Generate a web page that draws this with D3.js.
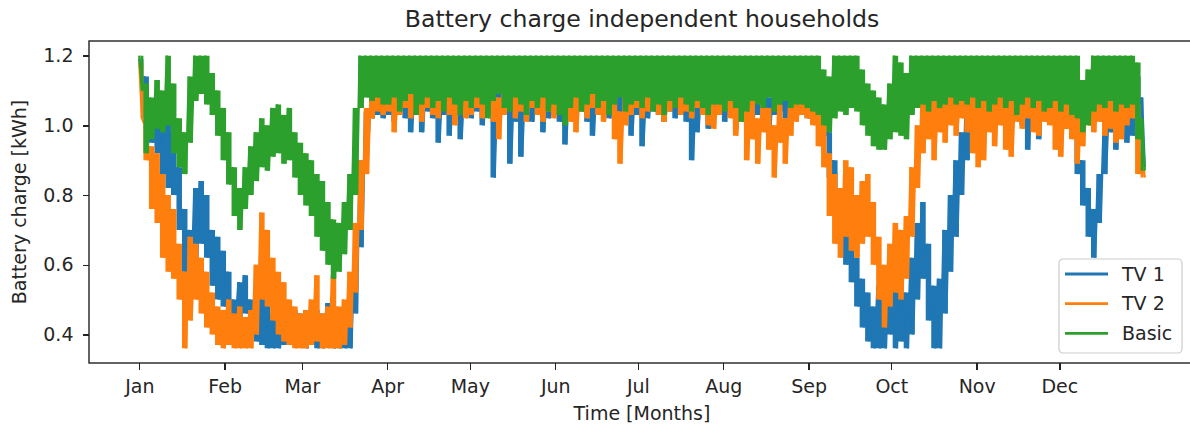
<!DOCTYPE html>
<html lang="en">
<head>
<meta charset="utf-8">
<script src="https://d3js.org/d3.v7.min.js"></script>
<style type="text/css">
body {
	margin: 0;
	background-color: #ffffff;
	font-family: "DejaVu Sans", sans-serif;
}

.axis text {
	font: 19px "DejaVu Sans", sans-serif;
	fill: #262626;
}

.axis line {
	stroke: #222;
	stroke-width: 1.4;
	shape-rendering: crispEdges;
}
</style>
</head>
<body>
<div id="chart"></div>
<script type="text/javascript">

	// tick labels
	var monthNames = ["Jan", "Feb", "Mar", "Apr", "May", "Jun", "Jul", "Aug", "Sep", "Oct", "Nov", "Dec"];
	var yTicks = [0.4, 0.6, 0.8, 1.0, 1.2];

	// legend entries (plot order)
	var seriesNames = ["TV 1", "TV 2", "Basic"];
	var seriesColors = ["#1f77b4", "#ff7f0e", "#2ca02c"];

	// one sample every 2 days: daily peak and daily low of the charge (kWh)
	var stepDays = 2;

	var tv1High = [
		1.19,1.14,1.06,1.04,1.03,1.02,0.98,0.88,0.76,0.70,0.82,0.84,0.80,0.70,0.68,
		0.64,0.58,0.50,0.55,0.57,0.50,0.47,0.55,0.50,0.46,0.44,0.46,0.48,0.47,0.46,
		0.47,0.45,0.47,0.46,0.49,0.47,0.46,0.44,0.44,0.62,0.90,1.04,1.08,1.10,1.09,
		1.12,1.10,1.13,1.11,1.09,1.12,1.10,1.13,1.11,1.08,1.12,1.10,1.13,1.09,1.11,
		1.11,1.13,1.10,1.12,1.06,1.11,1.13,1.08,1.12,1.09,1.12,1.10,1.13,1.11,1.12,
		1.12,1.10,1.06,1.12,1.11,1.13,1.10,1.09,1.12,1.13,1.11,1.12,1.10,1.12,1.08,
		1.12,1.06,1.11,1.13,1.12,1.10,1.13,1.11,1.12,1.10,1.04,1.09,1.12,1.10,1.11,
		1.13,1.10,1.12,1.09,1.11,1.13,1.10,1.12,1.11,1.08,1.12,1.13,1.11,1.13,1.12,
		1.12,1.10,1.12,1.10,1.06,0.98,0.90,0.82,0.74,0.70,0.62,0.56,0.52,0.48,0.54,
		0.50,0.58,0.54,0.60,0.52,0.62,0.72,0.78,0.66,0.54,0.56,0.70,0.80,0.90,0.98,
		1.06,1.10,1.12,1.10,1.12,1.11,1.12,1.10,1.12,1.11,1.10,1.09,1.12,1.10,1.11,
		1.12,1.10,1.11,1.08,1.06,1.00,0.90,0.82,0.76,0.86,0.98,1.08,1.10,1.12,1.10,
		1.12,1.14,1.08
	];
	var tv1Low = [
		1.12,1.02,0.95,0.92,0.86,0.82,0.80,0.70,0.58,0.55,0.62,0.66,0.62,0.54,0.50,
		0.48,0.46,0.43,0.45,0.46,0.40,0.38,0.37,0.36,0.36,0.36,0.37,0.39,0.38,0.37,
		0.36,0.37,0.36,0.36,0.37,0.36,0.36,0.36,0.36,0.46,0.65,0.92,1.02,1.03,1.02,
		1.03,1.01,1.04,1.02,0.98,1.03,0.98,1.04,1.02,0.95,1.03,0.97,1.02,0.96,1.03,
		1.02,1.04,1.00,1.03,0.85,1.02,1.04,0.89,1.01,0.91,1.03,1.01,1.04,0.98,1.02,
		1.03,1.01,0.945,1.03,1.02,1.04,1.01,0.97,1.03,1.04,1.02,1.04,1.01,1.03,0.97,
		1.03,0.94,1.02,1.04,1.03,1.01,1.04,1.02,1.03,1.01,0.90,0.98,1.03,0.99,1.02,
		1.04,1.01,1.03,0.99,1.02,1.04,1.01,1.03,1.02,0.97,1.03,1.04,1.02,1.04,1.03,
		1.04,1.02,1.03,1.01,0.97,0.85,0.76,0.66,0.60,0.55,0.48,0.42,0.38,0.36,0.36,
		0.36,0.40,0.36,0.38,0.36,0.40,0.50,0.56,0.44,0.36,0.36,0.46,0.58,0.68,0.80,
		0.90,0.98,1.02,1.03,1.01,1.04,1.02,1.03,1.01,1.04,1.00,0.93,1.03,0.96,1.02,
		1.03,1.01,1.03,0.99,0.97,0.86,0.77,0.68,0.62,0.72,0.86,0.98,0.93,1.01,0.95,
		0.97,1.00,0.88
	];

	var tv2High = [
		1.18,1.00,0.94,0.92,0.86,0.80,0.76,0.66,0.58,0.68,0.66,0.62,0.58,0.52,0.48,
		0.47,0.50,0.46,0.48,0.45,0.47,0.60,0.75,0.70,0.62,0.58,0.55,0.50,0.48,0.46,
		0.47,0.50,0.57,0.46,0.48,0.57,0.48,0.50,0.58,0.72,0.90,1.05,1.10,1.12,1.11,
		1.13,1.11,1.14,1.12,1.13,1.11,1.14,1.12,1.13,1.10,1.14,1.12,1.13,1.11,1.12,
		1.12,1.14,1.11,1.13,1.12,1.08,1.13,1.14,1.12,1.13,1.11,1.14,1.12,1.11,1.13,
		1.12,1.14,1.13,1.11,1.10,1.13,1.12,1.14,1.13,1.11,1.13,1.08,1.04,1.10,1.12,
		1.14,1.12,1.13,1.14,1.12,1.11,1.13,1.14,1.12,1.13,1.11,1.14,1.12,1.10,1.10,
		1.12,1.14,1.12,1.08,1.11,1.04,1.08,1.02,1.08,1.05,1.00,1.06,1.02,1.08,1.11,
		1.12,1.10,1.12,1.10,1.05,0.92,0.86,0.82,0.90,0.88,0.80,0.84,0.86,0.78,0.68,
		0.60,0.66,0.72,0.70,0.74,0.88,1.00,1.08,1.10,1.09,1.11,1.10,1.12,1.10,1.12,
		1.10,1.12,1.08,1.10,1.12,1.10,1.12,1.09,1.11,1.12,1.10,1.12,1.11,1.12,1.10,
		1.12,1.10,1.08,1.11,1.12,1.09,1.10,1.12,1.11,1.12,1.10,1.12,1.11,1.12,1.10,
		1.12,1.06,0.92
	];
	var tv2Low = [
		1.02,0.90,0.76,0.72,0.62,0.58,0.56,0.50,0.36,0.44,0.50,0.46,0.42,0.40,0.37,
		0.36,0.37,0.36,0.36,0.36,0.36,0.40,0.50,0.48,0.44,0.40,0.38,0.37,0.36,0.36,
		0.36,0.37,0.38,0.36,0.36,0.36,0.36,0.37,0.42,0.52,0.70,0.86,1.02,1.04,1.03,
		1.04,0.98,1.03,1.05,1.02,1.04,1.01,1.05,1.03,1.02,1.05,1.03,1.00,1.04,1.02,
		1.03,1.05,1.02,1.04,1.01,0.96,1.03,1.05,1.02,1.04,1.01,1.05,1.03,1.01,1.04,
		1.02,1.05,1.03,1.01,0.98,1.04,1.02,1.05,1.03,1.01,1.04,0.96,0.89,1.00,1.03,
		1.05,1.02,1.04,1.06,1.03,1.01,1.04,1.05,1.03,1.04,1.02,1.05,1.03,1.00,0.99,
		1.03,1.05,1.02,0.97,1.01,0.90,0.96,0.89,0.98,0.93,0.85,0.95,0.89,0.97,1.01,
		1.03,1.02,1.00,0.94,0.88,0.74,0.66,0.62,0.68,0.64,0.62,0.66,0.68,0.60,0.50,
		0.42,0.48,0.52,0.50,0.56,0.68,0.82,0.92,0.96,0.90,0.98,0.95,1.00,0.97,1.02,
		0.98,0.92,0.88,0.90,0.98,0.94,1.00,0.93,0.91,1.01,0.99,1.02,0.98,0.97,1.01,
		1.00,0.93,0.91,0.99,0.96,0.89,0.94,1.00,0.98,1.01,0.97,0.99,0.95,0.96,1.00,
		1.02,0.86,0.85
	];

	var basicHigh = [
		1.20,1.12,1.08,1.13,1.10,1.20,1.12,1.02,0.98,1.14,1.20,1.20,1.20,1.15,1.10,
		1.05,0.98,0.88,0.82,0.88,0.94,0.98,1.02,1.00,1.05,1.06,1.03,1.05,0.98,0.95,
		0.92,0.90,0.86,0.84,0.78,0.73,0.72,0.78,0.86,1.05,1.20,1.20,1.20,1.20,1.20,
		1.20,1.20,1.20,1.20,1.20,1.20,1.20,1.20,1.20,1.20,1.20,1.20,1.20,1.20,1.20,
		1.20,1.20,1.20,1.20,1.20,1.20,1.20,1.20,1.20,1.20,1.20,1.20,1.20,1.20,1.20,
		1.20,1.20,1.20,1.20,1.20,1.20,1.20,1.20,1.20,1.20,1.20,1.20,1.20,1.20,1.20,
		1.20,1.20,1.20,1.20,1.20,1.20,1.20,1.20,1.20,1.20,1.20,1.20,1.20,1.20,1.20,
		1.20,1.20,1.20,1.20,1.20,1.20,1.20,1.20,1.20,1.20,1.20,1.20,1.20,1.20,1.20,
		1.20,1.20,1.20,1.20,1.16,1.14,1.20,1.20,1.20,1.20,1.20,1.16,1.12,1.10,1.08,
		1.06,1.12,1.20,1.18,1.15,1.20,1.20,1.20,1.20,1.20,1.20,1.20,1.20,1.20,1.20,
		1.20,1.20,1.20,1.20,1.20,1.20,1.20,1.20,1.20,1.20,1.20,1.20,1.20,1.20,1.20,
		1.20,1.20,1.20,1.20,1.20,1.20,1.13,1.16,1.20,1.20,1.20,1.20,1.20,1.20,1.20,
		1.20,1.18,1.02
	];
	var basicLow = [
		1.10,0.92,0.96,0.99,0.98,1.00,0.92,0.88,0.86,0.95,1.07,1.09,1.06,1.03,0.97,
		0.90,0.83,0.74,0.70,0.76,0.80,0.84,0.88,0.87,0.91,0.92,0.89,0.90,0.85,0.80,
		0.77,0.74,0.68,0.64,0.60,0.56,0.58,0.63,0.70,0.80,1.05,1.08,1.07,1.08,1.06,
		1.06,1.08,1.04,1.07,1.09,1.03,1.06,1.08,1.05,1.07,1.04,1.08,1.06,1.03,1.07,
		1.05,1.08,1.06,1.02,1.07,1.09,1.05,1.04,1.08,1.06,1.03,1.07,1.05,1.08,1.04,
		1.06,1.03,1.00,1.05,1.08,1.04,1.06,1.09,1.05,1.07,1.03,1.06,1.08,1.04,1.06,
		1.07,1.05,1.08,1.04,1.06,1.03,1.07,1.05,1.08,1.06,1.04,1.07,1.05,1.03,1.06,
		1.06,1.04,1.07,1.05,1.01,1.04,1.07,1.06,1.05,1.08,1.04,1.06,1.07,1.05,1.06,
		1.06,1.05,1.04,1.03,1.00,0.98,1.02,1.04,1.03,1.05,1.04,1.00,0.97,0.94,0.93,
		0.93,0.96,0.98,0.97,0.96,1.03,1.05,1.06,1.04,1.07,1.05,1.06,1.08,1.06,1.07,
		1.06,1.08,1.05,1.07,1.04,1.06,1.08,1.05,1.07,1.03,1.06,1.08,1.05,1.07,1.04,
		1.05,1.07,1.04,1.06,1.03,1.02,0.98,1.00,1.04,1.06,1.05,1.07,1.04,1.06,1.05,
		1.06,0.96,0.87
	];

	var highs = [tv1High, tv2High, basicHigh];
	var lows = [tv1Low, tv2Low, basicLow];

	// Size of the page and of the axes box (right spine falls outside the page)
	var width = 1190;
	var height = 429;
	var plotLeft = 89, plotRight = 1195, plotTop = 41, plotBottom = 363;

	var yearStart = Date.UTC(2021, 0, 1);
	var dayMs = 864e5;
	function dateOf(d) { return new Date(yearStart + d * dayMs); }

	// 5% margins on both sides like matplotlib autoscale
	var x = d3.scaleUtc()
	  .domain([dateOf(-18.25), dateOf(383.25)])
	  .range([plotLeft, plotRight]);

	var y = d3.scaleLinear()
	  .domain([0.318, 1.242])
	  .range([plotBottom, plotTop]);

	var svg = d3.select("#chart")
	  .append("svg")
	  .attr("width", width)
	  .attr("height", height);

	svg.append("clipPath")
	  .attr("id", "plot-clip")
	  .append("rect")
	  .attr("x", plotLeft)
	  .attr("y", plotTop)
	  .attr("width", plotRight - plotLeft)
	  .attr("height", plotBottom - plotTop);

	var plot = svg.append("g").attr("clip-path", "url(#plot-clip)");

	// band covered by the charge in each period
	var band = d3.area()
	  .curve(d3.curveStep)
	  .x(function(d) { return x(dateOf(d.t + 0.5)); })
	  .y0(function(d) { return y(d.lo); })
	  .y1(function(d) { return y(d.hi); });

	// charge line going up to the peak and down to the low
	var line = d3.line()
	  .x(function(p) { return x(dateOf(p.t)); })
	  .y(function(p) { return y(p.v); });

	for (var s = 0; s < seriesNames.length; s++) {
		var samples = highs[s].map(function(h, i) {
			return { t: i * stepDays, hi: h, lo: lows[s][i] };
		});
		var points = [];
		samples.forEach(function(d) {
			points.push({ t: d.t, v: d.hi });
			points.push({ t: d.t + 1, v: d.lo });
		});

		plot.append("path")
		  .datum(samples)
		  .attr("d", band)
		  .style("fill", seriesColors[s])
		  .style("stroke", "none");

		plot.append("path")
		  .datum(points)
		  .attr("d", line)
		  .style("fill", "none")
		  .style("stroke", seriesColors[s])
		  .style("stroke-width", 2.4)
		  .style("stroke-linejoin", "miter");
	}

	// axes
	var monthTicks = monthNames.map(function(m, i) { return new Date(Date.UTC(2021, i, 1)); });

	svg.append("g")
	  .attr("class", "axis")
	  .attr("transform", "translate(0," + plotBottom + ")")
	  .call(d3.axisBottom(x)
	    .tickValues(monthTicks)
	    .tickFormat(function(d, i) { return monthNames[i]; })
	    .tickSize(6.5)
	    .tickPadding(10.5))
	  .call(function(g) { g.select(".domain").remove(); });

	svg.append("g")
	  .attr("class", "axis")
	  .attr("transform", "translate(" + plotLeft + ",0)")
	  .call(d3.axisLeft(y)
	    .tickValues(yTicks)
	    .tickFormat(d3.format(".1f"))
	    .tickSize(6.5)
	    .tickPadding(9))
	  .call(function(g) { g.select(".domain").remove(); });

	// frame
	svg.append("rect")
	  .attr("x", plotLeft)
	  .attr("y", plotTop)
	  .attr("width", plotRight - plotLeft)
	  .attr("height", plotBottom - plotTop)
	  .style("fill", "none")
	  .style("stroke", "#222")
	  .style("stroke-width", 1.4);

	// title and axis labels
	svg.append("text")
	  .attr("x", (plotLeft + plotRight) / 2)
	  .attr("y", 27)
	  .attr("text-anchor", "middle")
	  .style("font-size", "23.6px")
	  .style("fill", "#262626")
	  .text("Battery charge independent households");

	svg.append("text")
	  .attr("x", (plotLeft + plotRight) / 2)
	  .attr("y", 420)
	  .attr("text-anchor", "middle")
	  .style("font-size", "19px")
	  .style("fill", "#262626")
	  .text("Time [Months]");

	svg.append("text")
	  .attr("transform", "translate(26," + ((plotTop + plotBottom) / 2) + ") rotate(-90)")
	  .attr("text-anchor", "middle")
	  .style("font-size", "19px")
	  .style("fill", "#262626")
	  .text("Battery charge [kWh]");

	// legend
	var key = svg.append("g")
	  .attr("transform", "translate(1059,259)");

	key.append("rect")
	  .attr("width", 123)
	  .attr("height", 94)
	  .attr("rx", 4)
	  .style("fill", "#fff")
	  .style("fill-opacity", 0.8)
	  .style("stroke", "#cccccc")
	  .style("stroke-width", 1.2);

	var entry = key.selectAll("g.entry")
	  .data(seriesNames)
	  .enter()
	  .append("g")
	  .attr("class", "entry")
	  .attr("transform", function(d, i) { return "translate(0," + (15 + i * 29.7) + ")"; });

	entry.append("line")
	  .attr("x1", 6)
	  .attr("x2", 49)
	  .style("stroke", function(d, i) { return seriesColors[i]; })
	  .style("stroke-width", 2.8);

	entry.append("text")
	  .attr("x", 63)
	  .attr("dy", "0.35em")
	  .style("font-size", "19px")
	  .style("fill", "#262626")
	  .text(function(d) { return d; });

</script>
</body>
</html>
